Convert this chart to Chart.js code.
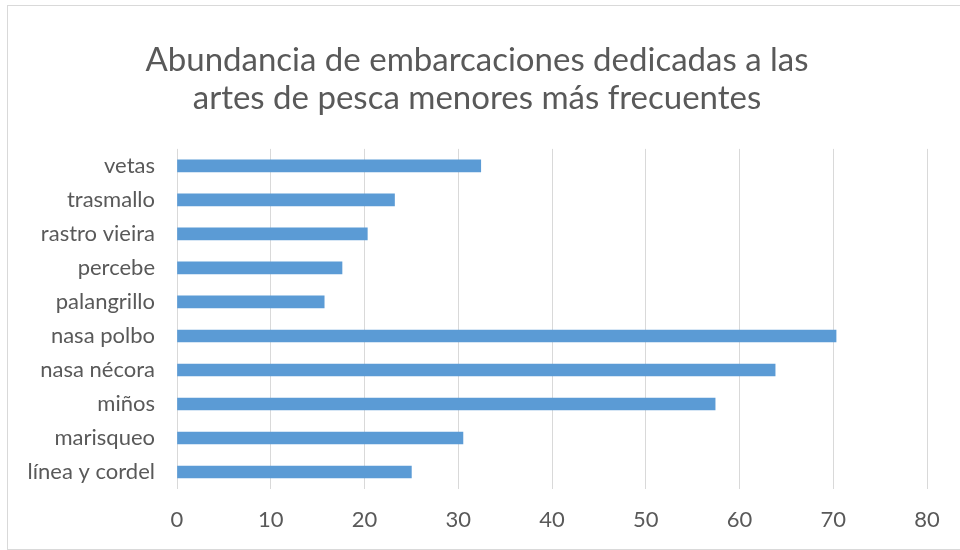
<!DOCTYPE html>
<html>
<head>
<meta charset="utf-8">
<script src="https://cdn.jsdelivr.net/npm/chart.js@4"></script>
<style>
    html, body { margin: 0; padding: 0; background: #ffffff; }
    #wrap {
        position: relative;
        width: 960px;
        height: 550px;
    }
    #frame {
        position: absolute;
        left: 7px;
        top: 5px;
        width: 960px;
        height: 543px;
        border: 1px solid #d9d9d9;
        pointer-events: none;
    }
</style>
</head>
<body>
<div id="wrap">
    <canvas id="artesChart" width="960" height="550"></canvas>
    <div id="frame"></div>
</div>
<script>
const titleLines = ['Abundancia de embarcaciones dedicadas a las', 'artes de pesca menores más frecuentes'];

// top to bottom, as shown in the chart
const artes = ['vetas', 'trasmallo', 'rastro vieira', 'percebe', 'palangrillo',
    'nasa polbo', 'nasa nécora', 'miños', 'marisqueo', 'línea y cordel'];
const embarcaciones = [32.4, 23.2, 20.3, 17.6, 15.7, 70.3, 63.8, 57.4, 30.5, 25.0];

const xTicks = [0, 10, 20, 30, 40, 50, 60, 70, 80];

const textColor = '#595959'; // dark grey
const gridColor = '#d9d9d9'; // light grey
const barColor = '#5b9bd5';  // office blue

const artesDataConfig = {
    labels: artes,
    datasets: [{
        label: 'Embarcaciones',
        data: embarcaciones,
        backgroundColor: barColor,
        borderWidth: 0,
        barThickness: 12,
    }]
};

const ctx = document.getElementById('artesChart').getContext('2d');
const artesChart = new Chart(ctx, {
    type: 'bar',
    data: artesDataConfig,
    options: {
        indexAxis: 'y',
        responsive: false,
        animation: false,
        layout: {
            // left/right chosen so the title centres like the reference
            padding: { left: 27, right: 33, top: 0, bottom: 10 }
        },
        scales: {
            x: {
                min: xTicks[0],
                max: xTicks[xTicks.length - 1],
                afterBuildTicks: function(scale) {
                    scale.ticks = xTicks.map(v => ({ value: v }));
                },
                afterFit: function(scale) {
                    scale.height = 51;
                },
                grid: {
                    color: gridColor,
                    lineWidth: 1,
                    drawTicks: false
                },
                border: { display: false },
                ticks: {
                    color: textColor,
                    padding: 18,
                    font: { family: 'Lato', size: 22 }
                }
            },
            y: {
                afterFit: function(scale) {
                    scale.width = 150;
                },
                grid: { display: false, drawTicks: false },
                border: { display: false },
                ticks: {
                    color: textColor,
                    padding: 22,
                    font: { family: 'Lato', size: 22 }
                }
            }
        },
        plugins: {
            legend: { display: false },
            tooltip: { enabled: false },
            title: {
                display: true,
                text: titleLines,
                color: textColor,
                font: { family: 'Lato', size: 33, weight: 'normal', lineHeight: 1.15 },
                padding: { top: 41, bottom: 32 }
            }
        }
    }
});
</script>
</body>
</html>
